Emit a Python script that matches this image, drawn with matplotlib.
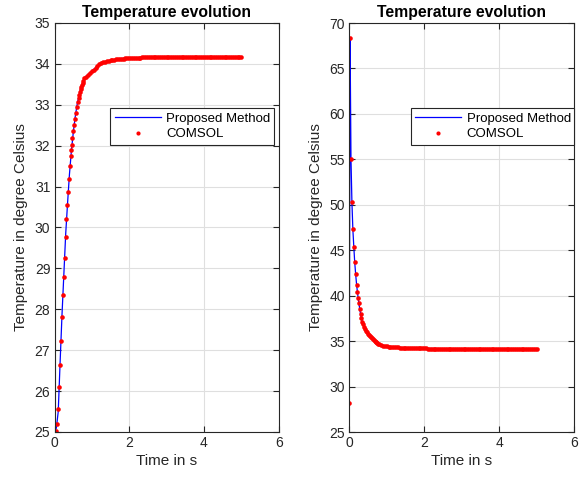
import matplotlib
matplotlib.use('Agg')
import matplotlib.pyplot as plt

plt.rcParams['font.family'] = ['Liberation Sans', 'DejaVu Sans']

# left panel: heating from 25 C
prop_t_left = [0.0, 0.05, 0.1, 0.15, 0.2, 0.25, 0.3, 0.35, 0.4, 0.45, 0.5, 0.55, 0.6,
               0.65, 0.7, 0.8, 1.26, 1.75, 2.25, 3.0, 4.0, 5.0]
prop_T_left = [25.0, 25.1, 25.5, 26.7, 27.85, 28.85, 29.85, 30.6, 31.3, 31.85, 32.3, 32.68,
               32.98, 33.2, 33.4, 33.66, 34.04, 34.13, 34.15, 34.16, 34.16, 34.16]

comsol_t_left = [
    0.0, 0.035, 0.08, 0.105, 0.13, 0.15, 0.175, 0.195, 0.22, 0.25,
    0.275, 0.295, 0.32, 0.345, 0.37, 0.39, 0.415, 0.435, 0.45, 0.462,
    0.48, 0.505, 0.525, 0.55, 0.575, 0.6, 0.63, 0.65, 0.667, 0.684,
    0.702, 0.72, 0.738, 0.756, 0.775, 0.8,
    0.85, 0.9, 0.95, 1.0, 1.05, 1.1, 1.15, 1.2, 1.25, 1.3,
    1.35, 1.4, 1.45, 1.5, 1.55, 1.6, 1.65, 1.7, 1.75, 1.8,
    1.85, 1.9, 1.95, 2.0, 2.05, 2.1, 2.15, 2.2, 2.25, 2.3,
    2.35, 2.4, 2.45, 2.5, 2.55, 2.6, 2.65, 2.7, 2.75, 2.8,
    2.85, 2.9, 2.95, 3.0, 3.05, 3.1, 3.15, 3.2, 3.25, 3.3,
    3.35, 3.4, 3.45, 3.5, 3.55, 3.6, 3.65, 3.7, 3.75, 3.8,
    3.85, 3.9, 3.95, 4.0, 4.05, 4.1, 4.15, 4.2, 4.25, 4.3,
    4.35, 4.4, 4.45, 4.5, 4.55, 4.6, 4.65, 4.7, 4.75, 4.8,
    4.85, 4.9, 4.95, 5.0]
comsol_T_left = [
    25.0, 25.02, 25.19, 25.56, 26.1, 26.65, 27.23, 27.81, 28.34, 28.8,
    29.26, 29.77, 30.21, 30.54, 30.86, 31.19, 31.51, 31.74, 31.89, 32.02,
    32.19, 32.35, 32.5, 32.66, 32.8, 32.94, 33.07, 33.16, 33.24, 33.31,
    33.38, 33.43, 33.48, 33.53, 33.58, 33.65,
    33.69, 33.73, 33.78, 33.82, 33.86, 33.91, 33.95, 33.99, 34.03, 34.04,
    34.05, 34.07, 34.08, 34.09, 34.10, 34.10, 34.11, 34.12, 34.12, 34.13,
    34.13, 34.14, 34.14, 34.14, 34.15, 34.15, 34.15, 34.15, 34.155, 34.155,
    34.16, 34.16, 34.16, 34.16, 34.16, 34.16, 34.16, 34.16, 34.16, 34.16,
    34.16, 34.16, 34.16, 34.16, 34.16, 34.16, 34.16, 34.16, 34.16, 34.16,
    34.16, 34.16, 34.16, 34.16, 34.16, 34.16, 34.16, 34.16, 34.16, 34.16,
    34.16, 34.16, 34.16, 34.16, 34.16, 34.16, 34.16, 34.16, 34.16, 34.16,
    34.16, 34.16, 34.16, 34.16, 34.16, 34.16, 34.16, 34.16, 34.16, 34.16,
    34.16, 34.16, 34.16, 34.16]

# right panel: cooling from the peak
prop_t_right = [0.0, 0.02, 0.045, 0.07, 0.095, 0.12, 0.145, 0.17, 0.195, 0.235, 0.28,
                0.32, 0.37, 0.42, 0.5, 0.6, 0.7, 0.8, 1.0, 1.25, 1.5, 2.0, 3.0, 4.0, 5.0]
prop_T_right = [28.24, 68.4, 55.0, 50.27, 47.3, 45.4, 43.65, 42.35, 41.2, 39.78, 38.5,
                37.5, 36.85, 36.3, 35.8, 35.35, 34.93, 34.66, 34.42, 34.32, 34.26, 34.19,
                34.15, 34.14, 34.13]

comsol_t_right = [
    0.0, 0.02, 0.045, 0.07, 0.095, 0.12, 0.145, 0.17, 0.195, 0.215,
    0.235, 0.255, 0.28, 0.3, 0.32, 0.345, 0.37, 0.395, 0.42, 0.445,
    0.47, 0.5, 0.525, 0.55, 0.575, 0.6, 0.625, 0.65, 0.675, 0.7,
    0.725, 0.75, 0.775, 0.8,
    0.85, 0.9, 0.95, 1.0, 1.05, 1.1, 1.15, 1.2, 1.25, 1.3,
    1.35, 1.4, 1.45, 1.5, 1.55, 1.6, 1.65, 1.7, 1.75, 1.8,
    1.85, 1.9, 1.95, 2.0, 2.05, 2.1, 2.15, 2.2, 2.25, 2.3,
    2.35, 2.4, 2.45, 2.5, 2.55, 2.6, 2.65, 2.7, 2.75, 2.8,
    2.85, 2.9, 2.95, 3.0, 3.05, 3.1, 3.15, 3.2, 3.25, 3.3,
    3.35, 3.4, 3.45, 3.5, 3.55, 3.6, 3.65, 3.7, 3.75, 3.8,
    3.85, 3.9, 3.95, 4.0, 4.05, 4.1, 4.15, 4.2, 4.25, 4.3,
    4.35, 4.4, 4.45, 4.5, 4.55, 4.6, 4.65, 4.7, 4.75, 4.8,
    4.85, 4.9, 4.95, 5.0]
comsol_T_right = [
    28.24, 68.4, 55.0, 50.27, 47.3, 45.4, 43.65, 42.35, 41.2, 40.4,
    39.78, 39.16, 38.5, 38.0, 37.5, 37.14, 36.85, 36.56, 36.3, 36.1,
    35.97, 35.8, 35.67, 35.56, 35.45, 35.35, 35.25, 35.15, 35.03, 34.93,
    34.85, 34.78, 34.72, 34.66,
    34.58, 34.51, 34.46, 34.42, 34.40, 34.38, 34.35, 34.33, 34.32, 34.30,
    34.29, 34.28, 34.27, 34.26, 34.25, 34.24, 34.23, 34.22, 34.22, 34.21,
    34.21, 34.20, 34.20, 34.19, 34.19, 34.18, 34.18, 34.18, 34.17, 34.17,
    34.17, 34.16, 34.16, 34.16, 34.16, 34.15, 34.15, 34.15, 34.15, 34.15,
    34.15, 34.15, 34.15, 34.14, 34.14, 34.14, 34.14, 34.14, 34.14, 34.14,
    34.14, 34.14, 34.14, 34.14, 34.14, 34.14, 34.14, 34.14, 34.14, 34.14,
    34.13, 34.13, 34.13, 34.13, 34.13, 34.13, 34.13, 34.13, 34.13, 34.13,
    34.13, 34.13, 34.13, 34.13, 34.13, 34.13, 34.13, 34.13, 34.13, 34.13,
    34.13, 34.13, 34.13, 34.13]

panels = [
    (prop_t_left, prop_T_left, comsol_t_left, comsol_T_left, (25, 35), range(25, 36),
     [0.2475, 0.7017, 0.7315, 0.0953]),
    (prop_t_right, prop_T_right, comsol_t_right, comsol_T_right, (25, 70), range(25, 71, 5),
     [0.273, 0.7017, 0.727, 0.0953]),
]
ax_left = [54.5 / 587, 50 / 482, 224.2 / 587, 409 / 482]
ax_right = [349.3 / 587, 50 / 482, 224.7 / 587, 409 / 482]

dark = '#262626'
fig = plt.figure(figsize=(5.87, 4.82), dpi=100)

for rect, (pt, pT, ct, cT, ylim, yticks, leg_box) in zip([ax_left, ax_right], panels):
    ax = fig.add_axes(rect)
    ax.plot(pt, pT, color='b', lw=0.9, label='Proposed Method')
    ax.plot(ct, cT, 'o', color='r', ms=3.3, mew=0, label='COMSOL')
    ax.set_xlim(0, 6)
    ax.set_ylim(*ylim)
    ax.set_xticks([0, 2, 4, 6])
    ax.set_yticks(list(yticks))
    ax.grid(True, color='#dfdfdf', lw=0.8)
    ax.set_axisbelow(True)
    for sp in ax.spines.values():
        sp.set_color(dark)
        sp.set_linewidth(0.8)
    ax.tick_params(direction='in', top=True, right=True, length=4, width=0.8,
                   colors=dark, labelsize=10, pad=3)
    ax.set_xlabel('Time in s', fontsize=11, color=dark, labelpad=3)
    ax.set_ylabel('Temperature in degree Celsius', fontsize=11, color=dark, labelpad=5)
    ax.set_title('Temperature evolution', fontsize=11.3, fontweight='bold', pad=4)
    leg = ax.legend(loc='lower left', bbox_to_anchor=leg_box, mode='expand',
                    borderaxespad=0, fontsize=9.5, fancybox=False, framealpha=1,
                    edgecolor=dark, handlelength=3.5, handletextpad=0.4,
                    borderpad=0.35, labelspacing=0.25)
    leg.get_frame().set_linewidth(0.8)
    leg.legend_handles[1].set_markersize(3)

fig.savefig('out.png', dpi=100)
